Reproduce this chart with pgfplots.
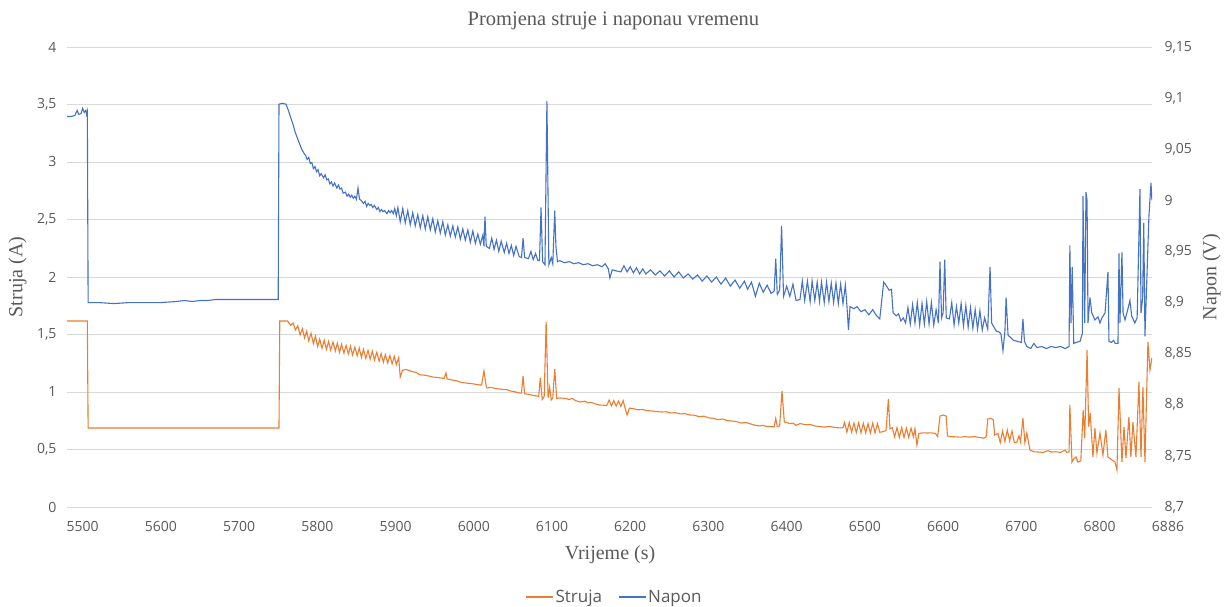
\documentclass[border=0pt]{standalone}
\usepackage{fontspec}
\setmainfont{Liberation Serif}
\newfontfamily\sansf{Open Sans}
\usepackage{pgfplots}
\pgfplotsset{compat=1.18}
\definecolor{struja}{HTML}{ED7D31}
\definecolor{napon}{HTML}{4472C4}
\definecolor{gridc}{HTML}{D9D9D9}
\definecolor{txt}{HTML}{595959}
\begin{document}
\begin{tikzpicture}
\useasboundingbox (-67pt,-100pt) rectangle (1160pt,507pt);
\pgfplotsset{
  common/.style={
    scale only axis, width=1085pt, height=460pt,
    xmin=5480, xmax=6867,
    axis line style={draw=none},
    tick style={draw=none},
    tick label style={font=\sansf\fontsize{14}{16}\selectfont, text=txt},
    /pgf/number format/assume math mode=true,
    /pgf/number format/fixed,
    /pgf/number format/use comma,
    /pgf/number format/1000 sep={},
    /pgf/number format/precision=2,
    label style={font=\fontsize{20}{24}\selectfont, text=txt},
  }
}
\begin{axis}[common,
  ymin=0, ymax=4, ytick={0,0.5,...,4},
  ymajorgrids, grid style={gridc, line width=0.9pt},
  xtick={5500,5600,...,6800},
  extra x ticks={6867}, extra x tick labels={6886},
  extra x tick style={grid=none, xticklabel style={xshift=16pt}},
  xticklabel style={yshift=-11pt},
  yticklabel style={xshift=-7pt},
  xlabel={Vrijeme (s)},
  xlabel style={at={(axis description cs:0.5005,-0.1043)}, anchor=center},
  ylabel={Struja (A)},
  ylabel style={at={(axis description cs:-0.0456,0.5)}, anchor=center},
  title={Promjena struje i naponau vremenu},
  title style={at={(axis description cs:0.5036,1.044)}, anchor=center, font=\fontsize{20.5}{24}\selectfont, text=txt},
]
\addplot[struja, line width=1.1pt, mark=none] coordinates {
(5480,1.617) (5506,1.617) (5507,0.687) (5751,0.687) (5752,1.617) (5762,1.617)
(5766,1.580) (5769,1.600) (5772,1.540) (5775,1.575) (5778,1.496) (5781,1.550)
(5783.6,1.470) (5786.4,1.530) (5789,1.445) (5792,1.510) (5795,1.420) (5797.6,1.485)
(5800.4,1.395) (5803,1.460) (5806,1.380) (5808.8,1.450) (5811.6,1.370) (5814.4,1.440)
(5817,1.365) (5820,1.435) (5823,1.355) (5825.6,1.425) (5828.4,1.345) (5831,1.415)
(5834,1.338) (5836.8,1.405) (5839.6,1.330) (5842.4,1.398) (5845,1.322) (5848,1.390)
(5851,1.315) (5853.6,1.382) (5856.4,1.300) (5859,1.372) (5862,1.292) (5864.8,1.362)
(5867.6,1.285) (5870.4,1.355) (5873,1.278) (5876,1.345) (5879,1.268) (5881.6,1.335)
(5884.4,1.260) (5887,1.325) (5890,1.252) (5892.8,1.318) (5895.6,1.245) (5898.4,1.310)
(5901,1.238) (5904,1.300) (5906,1.130) (5909,1.190) (5914,1.195) (5920,1.180)
(5926,1.170) (5931,1.150) (5938,1.145) (5943,1.138) (5948,1.130) (5955,1.125)
(5962,1.118) (5964.5,1.165) (5966,1.113) (5972,1.105) (5978,1.098) (5982,1.087)
(5988,1.080) (5994,1.075) (6000,1.070) (6004,1.065) (6008,1.061) (6010,1.060)
(6013,1.183) (6016,1.045) (6017,1.035) (6022,1.040) (6028,1.030) (6033.5,1.026)
(6038,1.020) (6042,1.022) (6046,1.010) (6050,1.005) (6055,0.998) (6059,0.991)
(6061,0.990) (6063,1.139) (6065,0.985) (6070,0.980) (6075,0.972) (6081,0.965)
(6083,0.962) (6085,1.122) (6087.5,0.935) (6090,0.960) (6092.5,1.609) (6095,0.950)
(6097,1.040) (6099,0.930) (6101,0.950) (6103.5,1.200) (6106,0.945) (6110,0.948)
(6116,0.945) (6122,0.935) (6126,0.945) (6130,0.925) (6136,0.913) (6142,0.920)
(6146,0.905) (6150,0.910) (6156,0.895) (6161,0.887) (6166,0.885) (6170,0.882)
(6173,0.930) (6176,0.880) (6179,0.925) (6182,0.878) (6185,0.920) (6188,0.875)
(6191,0.925) (6193,0.870) (6196,0.800) (6199,0.860) (6204,0.855) (6210,0.845)
(6216,0.848) (6222,0.838) (6228,0.835) (6234,0.830) (6240,0.826) (6246,0.828)
(6252,0.818) (6258,0.820) (6264,0.809) (6270,0.812) (6276,0.800) (6282,0.798)
(6288,0.785) (6294,0.790) (6300,0.775) (6306,0.772) (6312,0.760) (6318,0.765)
(6324,0.752) (6330,0.748) (6336,0.742) (6342,0.730) (6348,0.735) (6354,0.722)
(6360,0.710) (6366,0.705) (6370,0.710) (6374,0.700) (6380,0.700) (6384,0.697)
(6386,0.770) (6388,0.700) (6391,0.705) (6394,1.009) (6397,0.740) (6400,0.735)
(6404,0.725) (6408,0.730) (6412,0.710) (6417,0.725) (6425,0.715) (6430,0.718)
(6436,0.705) (6442,0.700) (6448,0.695) (6455,0.700) (6461,0.692) (6468,0.688)
(6472,0.690) (6474,0.735) (6477,0.650) (6480,0.735) (6483,0.650) (6486,0.730)
(6489,0.648) (6492,0.732) (6495,0.645) (6498,0.728) (6501,0.645) (6504,0.725)
(6507,0.643) (6510,0.730) (6513,0.645) (6516,0.725) (6519,0.650) (6523,0.655)
(6527,0.665) (6530,0.939) (6532,0.680) (6535,0.690) (6538,0.610) (6541,0.690)
(6544,0.605) (6547,0.690) (6550,0.605) (6553,0.685) (6556,0.605) (6559,0.685)
(6562,0.610) (6564,0.680) (6566.5,0.539) (6569,0.640) (6575,0.645) (6580,0.643)
(6585,0.645) (6590,0.640) (6593,0.612) (6596,0.790) (6600,0.800) (6604,0.790)
(6605.5,0.617) (6610,0.612) (6616,0.610) (6622,0.607) (6628,0.612) (6634,0.608)
(6640,0.612) (6646,0.605) (6652,0.598) (6655,0.610) (6657,0.765) (6661,0.770)
(6664,0.760) (6666,0.626) (6670,0.640) (6673,0.560) (6676,0.660) (6679,0.570)
(6682,0.670) (6685,0.575) (6688,0.660) (6691,0.560) (6694,0.560) (6697,0.620)
(6699,0.565) (6702,0.774) (6704.5,0.560) (6707,0.643) (6711,0.496) (6716,0.480)
(6722,0.478) (6728,0.475) (6734,0.490) (6738,0.478) (6744,0.480) (6750,0.475)
(6756,0.495) (6758,0.475) (6761,0.480) (6762,0.887) (6764.7,0.391) (6767,0.420)
(6770,0.435) (6772,0.391) (6776,0.400) (6779,0.843) (6781,0.600) (6784,1.365)
(6786,0.700) (6788,0.817) (6791.5,0.435) (6794,0.687) (6796.6,0.470) (6800.5,0.643)
(6804.3,0.452) (6808,0.670) (6810.7,0.435) (6815.8,0.409) (6819.7,0.391) (6822.2,0.322)
(6824.8,1.035) (6828.6,0.391) (6831.2,0.696) (6833.7,0.426) (6837.5,0.783) (6840,0.435)
(6842.6,0.739) (6846.5,0.435) (6850.3,1.087) (6852.9,0.435) (6855.4,1.043) (6858,0.391)
(6861.8,1.435) (6864.4,1.191) (6866.9,1.296)
};
\end{axis}
\begin{axis}[common,
  ymin=8.7, ymax=9.15,
  axis y line*=right, axis x line=none,
  ytick={8.7,8.75,8.8,8.85,8.9,8.95,9,9.05,9.1,9.15},
  yticklabel style={xshift=9pt},
  ylabel={Napon (V)},
  ylabel style={at={(axis description cs:1.055,0.5)}, anchor=center},
  legend style={at={(axis description cs:0.5046,-0.1957)}, anchor=center, draw=none, fill=none,
    legend columns=2, font=\sansf\fontsize{17}{20}\selectfont, text=txt,
    /tikz/every even column/.append style={column sep=14pt}},
  legend image code/.code={\draw[#1, line width=1.2pt] (0pt,0pt) -- (27pt,0pt);},
]
\addlegendimage{struja}
\addlegendentry{Struja}
\addplot[napon, line width=1.1pt, mark=none] coordinates {
(5480,9.082) (5485,9.082) (5490,9.083) (5493,9.088) (5495,9.084) (5498,9.085)
(5500,9.090) (5502,9.086) (5504,9.088) (5505,9.084) (5506,9.087) (5507,8.900)
(5520,8.900) (5540,8.899) (5560,8.900) (5580,8.900) (5600,8.900) (5620,8.901)
(5630,8.902) (5640,8.901) (5650,8.902) (5660,8.902) (5670,8.903) (5700,8.903)
(5750,8.903) (5751,9.094) (5755,9.095) (5760,9.094) (5763,9.088) (5769,9.074)
(5772,9.066) (5775,9.060) (5778,9.054) (5780,9.050) (5783,9.046) (5785,9.044)
(5787,9.040) (5789,9.042) (5791,9.036) (5793,9.037) (5795,9.031) (5797,9.033)
(5799,9.028) (5801,9.030) (5803,9.024) (5805,9.026) (5808,9.022) (5810,9.025)
(5812,9.020) (5814,9.021) (5816,9.016) (5818,9.018) (5820,9.014) (5822,9.017)
(5825,9.012) (5827,9.015) (5829,9.011) (5831,9.012) (5833,9.007) (5836,9.008)
(5838,9.004) (5840,9.006) (5842,9.003) (5844,9.005) (5846,9.002) (5848,9.004)
(5850,9.001) (5852,9.012) (5854,9.001) (5856,9.000) (5859,8.997) (5861,8.999)
(5863,8.994) (5865,8.997) (5867,8.995) (5869,8.996) (5871,8.993) (5873,8.995)
(5876,8.991) (5878,8.993) (5880,8.989) (5882,8.991) (5884,8.989) (5886,8.990)
(5889,8.987) (5891,8.990) (5893,8.988) (5895,8.990) (5897,8.987) (5899,8.992)
(5901,8.985) (5903,8.993) (5906,8.979) (5909.2,8.992) (5912.4,8.978) (5915.6,8.990) (5918.8,8.976)
(5922,8.988) (5925.2,8.975) (5928.4,8.986) (5931.6,8.973) (5934.8,8.985) (5938,8.972)
(5941.2,8.984) (5944.4,8.971) (5947.6,8.982) (5950.8,8.969) (5954,8.980) (5957.2,8.968)
(5960.4,8.979) (5963.6,8.966) (5966.8,8.976) (5970,8.965) (5973.2,8.975) (5976.4,8.964)
(5979.6,8.974) (5982.8,8.962) (5986,8.972) (5989.2,8.961) (5992.4,8.971) (5995.6,8.959)
(5998.8,8.970) (6002,8.958) (6005.2,8.967) (6008.4,8.957) (6011.6,8.966) (6013,8.955)
(6014.3,8.984) (6016,8.955) (6020,8.953) (6023,8.963) (6026,8.952) (6029,8.961)
(6032,8.950) (6035,8.960) (6039,8.949) (6042,8.958) (6045,8.948) (6048,8.956)
(6051,8.946) (6054,8.955) (6058,8.945) (6061,8.944) (6063,8.963) (6065,8.944)
(6070,8.943) (6073,8.950) (6076,8.942) (6079,8.948) (6082,8.941) (6084,8.941)
(6086,8.993) (6088,8.940) (6091,8.937) (6093.5,9.097) (6096,8.937) (6099,8.944)
(6101,8.938) (6103.5,8.990) (6105,8.955) (6107,8.940) (6110,8.941) (6116,8.939)
(6122,8.940) (6128,8.938) (6134,8.939) (6140,8.937) (6146,8.938) (6152,8.936)
(6158,8.937) (6164,8.935) (6168,8.938) (6172,8.933) (6174,8.924) (6177,8.932)
(6182,8.931) (6188,8.930) (6192,8.936) (6196,8.930) (6200,8.935) (6204,8.929)
(6208,8.934) (6212,8.928) (6216,8.933) (6220,8.928) (6226,8.932) (6232,8.927)
(6238,8.931) (6244,8.926) (6250,8.931) (6256,8.925) (6262,8.930) (6268,8.924)
(6274,8.928) (6280,8.923) (6286,8.927) (6292,8.921) (6298,8.926) (6304,8.920)
(6310,8.925) (6316,8.918) (6322,8.924) (6328,8.916) (6334,8.922) (6340,8.914)
(6346,8.921) (6350,8.913) (6355,8.920) (6360,8.906) (6365,8.919) (6370,8.910)
(6375,8.917) (6380,8.909) (6384,8.911) (6386,8.943) (6388,8.908) (6391,8.912)
(6393.5,8.975) (6396,8.906) (6400,8.916) (6404,8.906) (6408,8.918) (6412,8.902)
(6417,8.903) (6420,8.921) (6423,8.902) (6426.5,8.921) (6430,8.901) (6432.5,8.921)
(6436,8.902) (6439,8.920) (6442,8.901) (6444.5,8.920) (6448,8.900) (6451,8.920)
(6454,8.901) (6457,8.919) (6460,8.900) (6463,8.919) (6466,8.899) (6469,8.918)
(6472,8.899) (6475,8.917) (6477,8.897) (6479,8.873) (6481,8.896) (6486,8.894)
(6490,8.896) (6495,8.891) (6500,8.893) (6505,8.888) (6510,8.893) (6515,8.887)
(6519,8.884) (6524,8.920) (6527,8.917) (6531,8.912) (6534,8.913) (6536,8.890)
(6540,8.887) (6543,8.889) (6546,8.882) (6549,8.885) (6552,8.880) (6555,8.895)
(6558,8.879) (6561,8.898) (6564,8.880) (6567,8.900) (6570,8.878) (6573,8.899)
(6576,8.879) (6579,8.901) (6582,8.879) (6585,8.900) (6588,8.878) (6591,8.893)
(6594,8.880) (6596,8.940) (6598,8.885) (6600,8.890) (6602,8.942) (6604,8.885)
(6608,8.884) (6611,8.900) (6614,8.878) (6617,8.896) (6620,8.880) (6623,8.899)
(6626,8.877) (6629,8.897) (6632,8.876) (6635,8.895) (6638,8.875) (6641,8.893)
(6644,8.874) (6647,8.892) (6650,8.873) (6653,8.885) (6657,8.874) (6660,8.935)
(6662,8.880) (6665,8.876) (6668,8.872) (6672,8.871) (6674,8.869) (6676.5,8.853)
(6679,8.872) (6680.5,8.905) (6683,8.868) (6686,8.866) (6690,8.863) (6695,8.862)
(6700,8.861) (6702,8.884) (6704,8.862) (6707,8.857) (6712,8.855) (6716,8.860)
(6720,8.856) (6726,8.857) (6732,8.855) (6738,8.857) (6744,8.856) (6750,8.857)
(6756,8.855) (6761,8.857) (6762,8.956) (6763.5,8.880) (6765,8.935) (6767,8.860)
(6770,8.861) (6775,8.862) (6778,8.870) (6778.8,9.004) (6781,8.880) (6782.6,9.008)
(6784,9.000) (6785.2,8.880) (6787.7,8.905) (6790,8.890) (6794,8.883) (6798,8.886)
(6800.5,8.880) (6803,8.885) (6807,8.890) (6810.7,8.930) (6812,8.862) (6815,8.861)
(6818,8.863) (6820,8.860) (6823.5,8.860) (6824.8,8.948) (6826,8.880) (6828.6,8.949)
(6830,8.890) (6832.5,8.883) (6835,8.890) (6838.8,8.902) (6841,8.887) (6845,8.880)
(6848,8.885) (6851.6,9.011) (6853,8.890) (6855,8.904) (6856.5,8.978) (6858,8.867)
(6863.1,8.985) (6865.7,9.017) (6866.9,9.000)
};
\addlegendentry{Napon}
\end{axis}
\end{tikzpicture}
\end{document}
